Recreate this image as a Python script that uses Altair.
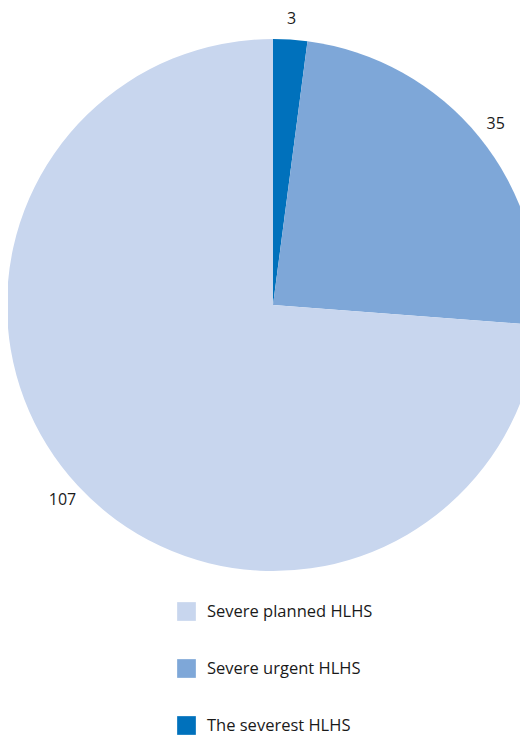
import altair as alt
import pandas as pd

categories = ["The severest HLHS", "Severe urgent HLHS", "Severe planned HLHS"]
values = [3, 35, 107]
order = [1, 2, 3]
legend_order = ["Severe planned HLHS", "Severe urgent HLHS", "The severest HLHS"]
colors = ["#c8d6ee", "#7ea7d8", "#0071bc"]

df = pd.DataFrame({"category": categories, "value": values, "ord": order})

FONT = "Open Sans"

base = alt.Chart(df).encode(
    theta=alt.Theta("value:Q", stack=True),
    order=alt.Order("ord:Q"),
    x=alt.value(265),
    y=alt.value(297),
)

pie = base.mark_arc(radius=266, clip=True).encode(
    color=alt.Color(
        "category:N",
        scale=alt.Scale(domain=legend_order, range=colors),
        legend=alt.Legend(
            title=None,
            orient="none",
            legendX=169,
            legendY=594,
            symbolType="square",
            symbolSize=350,
            symbolStrokeWidth=0,
            labelFontSize=16.5,
            labelFont=FONT,
            labelColor="#1a1a1a",
            labelOffset=11,
            labelLimit=400,
            rowPadding=38,
            padding=0,
        ),
    )
)

labels = base.mark_text(radius=287, fontSize=16, font=FONT, color="#1a1a1a").encode(
    text=alt.Text("value:Q")
)

chart = (
    alt.layer(pie, labels)
    .properties(width=512, height=729, autosize="none", padding=0)
    .configure_view(stroke=None)
)

chart.save("out.html", embed_options={"renderer": "svg", "actions": False})
